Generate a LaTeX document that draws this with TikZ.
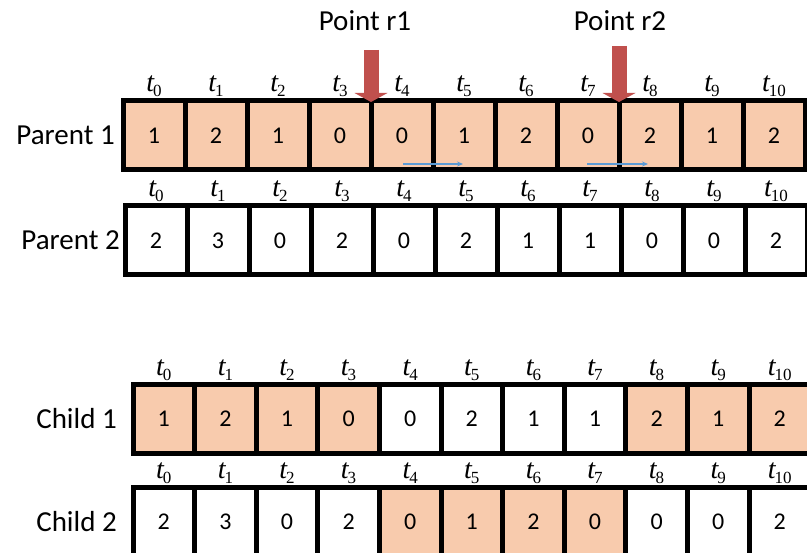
\documentclass[tikz,border=0pt]{standalone}
\usepackage{fontspec}
\setmainfont{Carlito}
\newfontfamily\timesfont{Liberation Serif}
\usepackage{tikz}
\usetikzlibrary{arrows.meta,positioning}
\definecolor{peach}{HTML}{F8CBAD}
\definecolor{cutred}{HTML}{C0504D}
\definecolor{strayblue}{HTML}{5B9BD5}
\newcommand\tsub[1]{{\timesfont\fontsize{28}{30}\selectfont\itshape t\kern-1pt\raisebox{-5pt}{\fontsize{17}{18}\selectfont\upshape #1}}}
\tikzset{cell/.style={draw=black, line width=5pt, minimum width=62pt, minimum height=69pt,
  inner sep=0pt, outer sep=0pt, font=\fontsize{24}{26}\selectfont},
rowlabel/.style={inner sep=0pt, font=\fontsize{29}{32}\selectfont},
tlab/.style={inner sep=0pt},
cutarrow/.style={draw=cutred, line width=15pt, -{Triangle[width=33pt,length=9pt,line width=0pt]}},
stray/.style={draw=strayblue, line width=1.4pt, -{Stealth[length=6pt,width=5pt]}}
}
\begin{document}
\begin{tikzpicture}[x=1pt, y=-1pt]
        \useasboundingbox (0,0) rectangle (807,553);
        % parent 1
        \foreach \v [count=\i from 0] in {1,2,1,0,0,1,2,0,2,1,2}
            \node[cell, fill=peach] (p1-\i) at (154+62*\i, 135.5) {\v};
        % parent 2
        \foreach \v [count=\i from 0] in {2,3,0,2,0,2,1,1,0,0,2}
            \node[cell, fill=white] (p2-\i) at (156+62*\i, 240.5) {\v};
        % child 1
        \foreach \v/\c [count=\i from 0] in {1/peach,2/peach,1/peach,0/peach,0/white,2/white,
                1/white,1/white,2/peach,1/peach,2/peach}
            \node[cell, fill=\c, minimum width=61.6pt] (c1-\i) at (163.8+61.6*\i, 419) {\v};
        % child 2
        \foreach \v/\c [count=\i from 0] in {2/white,3/white,0/white,2/white,0/peach,1/peach,
                2/peach,0/peach,0/white,0/white,2/white}
            \node[cell, fill=\c, minimum width=61.6pt] (c2-\i) at (163.8+61.6*\i, 522) {\v};

        \foreach \r in {p1,p2,c1,c2}
            \foreach \i in {0,...,10}
                \node[tlab, above=4pt of \r-\i] {\tsub{\i}};

        \node[rowlabel, left=8pt of p1-0]  (lp1) {Parent 1};
        \node[rowlabel, left=5pt of p2-0]  (lp2) {Parent 2};
        \node[rowlabel, left=16pt of c1-0] (lc1) {Child 1};
        \node[rowlabel, left=16pt of c2-0] (lc2) {Child 2};

        \node[rowlabel] (r1) at (365,21) {Point r1};
        \node[rowlabel] (r2) at (620,21) {Point r2};
        \coordinate (cut1) at (p1-3.north east |- 0,50);
        \coordinate (cut2) at (p1-7.north east |- 0,46);
        \draw[cutarrow] (cut1) -- ([yshift=-1pt]p1-3.north east);
        \draw[cutarrow] (cut2) -- ([yshift=-1pt]p1-7.north east);

        \coordinate (s1a) at (403,164);
        \coordinate (s1b) at (463,164);
        \coordinate (s2a) at (587,164);
        \coordinate (s2b) at (648,164);
        \draw[stray] (s1a) -- (s1b);
        \draw[stray] (s2a) -- (s2b);
\end{tikzpicture}
\end{document}
